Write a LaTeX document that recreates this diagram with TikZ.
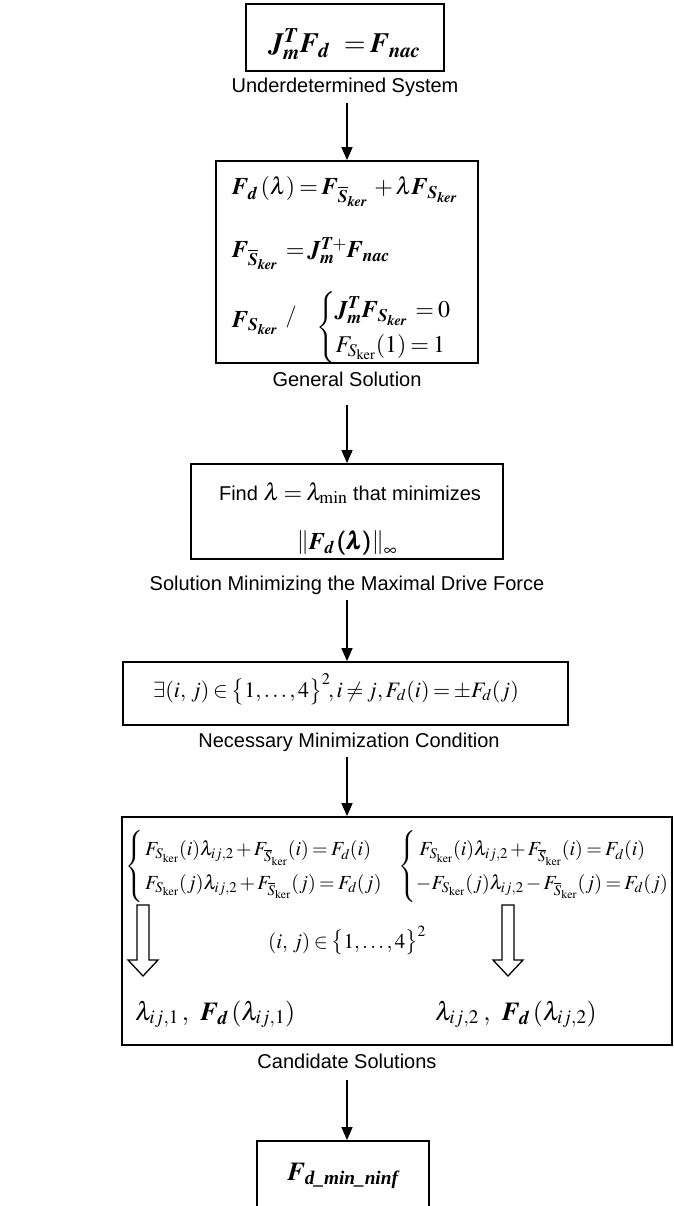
\documentclass[tikz,border=0pt]{standalone}
\usepackage[no-math]{fontspec}
\usepackage{amsmath}
\usepackage{mathptmx}
\newfontfamily\arialfont{Liberation Sans}
\newfontfamily\timesfont{Liberation Serif}
\DeclareMathAlphabet{\mathbi}{OT1}{ptm}{b}{it}
\usetikzlibrary{arrows.meta}
\newcommand{\Sk}{S_{\mathrm{ker}}}
\newcommand{\Sbk}{\overline{S}_{\mathrm{ker}}}
\newcommand{\bSk}{\mathbi{S}_{\mathbi{ker}}}
\newcommand{\bSbk}{\overline{\mathbi{S}}_{\mathbi{ker}}}
\medmuskip=2mu
\thickmuskip=3mu
\begin{document}
\begin{tikzpicture}[x=1pt,y=-1pt,
  box/.style={draw, line width=1.8pt, inner sep=0pt},
  arr/.style={line width=1.4pt, -{Triangle[length=13pt,width=11pt]}},
  lab/.style={font=\arialfont\fontsize{20}{24}\selectfont, inner sep=0pt, anchor=base},
  eq/.style={inner sep=0pt, anchor=base},
  hollow/.style={draw, line width=1.3pt, fill=white}]
\useasboundingbox (0,0) rectangle (673,1206);
\clip (0,0) rectangle (673,1206);

% box 1
\node[box, minimum width=198pt, minimum height=67pt] (b1) at (345,37.5) {};
\node[eq, font=\fontsize{28}{32}\selectfont] (e1) at (345,53) {$\mathbi{J}_{\mathbi{m}}^{\mathbi{T}}\mathbi{F}_{\mathbi{d}}\;\;=\mathbi{F}_{\mathbi{nac}}$};
\node[lab] (l1) at (345,93) {Underdetermined System};
\coordinate (a1) at (347,103);

% box 2
\node[box, minimum width=262pt, minimum height=202pt] (b2) at (347,262) {};
\node[eq, anchor=base west, font=\fontsize{24}{28}\selectfont] (e2a) at (232,195) {$\mathbi{F}_{\mathbi{d}}\,(\lambda)=\mathbi{F}_{\bSbk}\;+\lambda\mathbi{F}_{\bSk}$};
\node[eq, anchor=base west, font=\fontsize{24}{28}\selectfont] (e2b) at (232,258) {$\mathbi{F}_{\bSbk}\;=\mathbi{J}_{\mathbi{m}}^{\mathbi{T}+}\mathbi{F}_{\mathbi{nac}}$};
\node[eq, anchor=base west, font=\fontsize{24}{28}\selectfont] (e2c) at (232,327) {$\mathbi{F}_{\bSk}$};
\node[eq, font=\fontsize{22}{26}\selectfont] (e2d) at (291,322) {$/$};
\node[inner sep=0pt, anchor=west, font=\fontsize{24}{28}\selectfont] (e2e) at (316,328) {$\renewcommand{\arraystretch}{1.25}\left\{\begin{array}{@{}l@{}}\mathbi{J}_{\mathbi{m}}^{\mathbi{T}}\mathbi{F}_{\bSk}\;=0\\ F_{\Sk}(1)=1\end{array}\right.$};
\node[lab] (l2) at (347,386) {General Solution};
\coordinate (a2) at (347,405);

% box 3
\node[box, minimum width=312pt, minimum height=95pt] (b3) at (347,511.5) {};
\node[eq, font=\arialfont\fontsize{20}{24}\selectfont] (e3a) at (350,500) {Find {\fontsize{24}{28}\selectfont$\lambda=\lambda_{\min}$} that minimizes};
\node[eq, font=\fontsize{24}{28}\selectfont] (e3b) at (347,549) {$\left\|\mathbi{F}_{\mathbi{d}}\,\pmb{(\lambda)}\right\|_{\infty}$};
\node[lab] (l3) at (347,590) {Solution Minimizing the Maximal Drive Force};
\coordinate (a3) at (347,600);

% box 4
\node[box, minimum width=445pt, minimum height=63pt] (b4) at (345.5,693.5) {};
\node[eq, font=\fontsize{22}{26}\selectfont] (e4) at (336,697) {$\exists(i,\,j)\in\bigl\{1,\ldots,4\bigr\}^{2}\!, i\neq j, F_d(i)=\pm F_d(j)$};
\node[lab] (l4) at (349,747) {Necessary Minimization Condition};
\coordinate (a4) at (347,757);

% box 5
\node[box, minimum width=550pt, minimum height=228pt] (b5) at (397,931) {};
\node[inner sep=0pt, anchor=west, font=\fontsize{20}{24}\selectfont] (e5a) at (125,866) {$\renewcommand{\arraystretch}{1.4}\left\{\,\begin{array}{@{}l@{}}F_{\Sk}(i)\lambda_{ij,2}+F_{\Sbk}(i)=F_d(i)\\ F_{\Sk}(j)\lambda_{ij,2}+F_{\Sbk}(j)=F_d(j)\end{array}\right.$};
\node[inner sep=0pt, anchor=west, font=\fontsize{20}{24}\selectfont] (e5b) at (398,866) {$\renewcommand{\arraystretch}{1.4}\left\{\begin{array}{@{}l@{}}\;F_{\Sk}(i)\lambda_{ij,2}+F_{\Sbk}(i)=F_d(i)\\ -F_{\Sk}(j)\lambda_{ij,2}-F_{\Sbk}(j)=F_d(j)\end{array}\right.$};
\draw[hollow] (137,905) -- (149,905) -- (149,960) -- (158,960) -- (143,976) -- (128,960) -- (137,960) -- cycle;
\draw[hollow] (502,905) -- (514,905) -- (514,960) -- (523,960) -- (508,976) -- (493,960) -- (502,960) -- cycle;
\node[eq, font=\fontsize{21}{25}\selectfont] (e5c) at (347,948) {$(i,\,j)\in\bigl\{1,\ldots,4\bigr\}^{2}$};
\node[eq, anchor=base west, font=\fontsize{26}{30}\selectfont] (e5d) at (135,1020) {$\lambda_{ij,1}\,,\;\;\mathbi{F}_{\mathbi{d}}\,(\lambda_{ij,1})$};
\node[eq, anchor=base west, font=\fontsize{26}{30}\selectfont] (e5e) at (435,1020) {$\lambda_{ij,2}\;,\;\;\mathbi{F}_{\mathbi{d}}\,(\lambda_{ij,2})$};
\node[lab] (l5) at (347,1068) {Candidate Solutions};
\coordinate (a5) at (347,1080);

% box 6
\node[box, minimum width=172pt, minimum height=90pt] (b6) at (343,1186) {};
\node[eq, font=\fontsize{26}{30}\selectfont] (e6) at (343,1180) {$\mathbi{F}_{\text{\timesfont\bfseries\itshape d\_min\_ninf}}$};

% connectors
\draw[arr] (a1) -- (b2.north);
\draw[arr] (a2) -- (b3.north);
\draw[arr] (a3) -- (a3 |- b4.north);
\draw[arr] (a4) -- (a4 |- b5.north);
\draw[arr] (a5) -- (a5 |- b6.north);
\end{tikzpicture}
\end{document}
